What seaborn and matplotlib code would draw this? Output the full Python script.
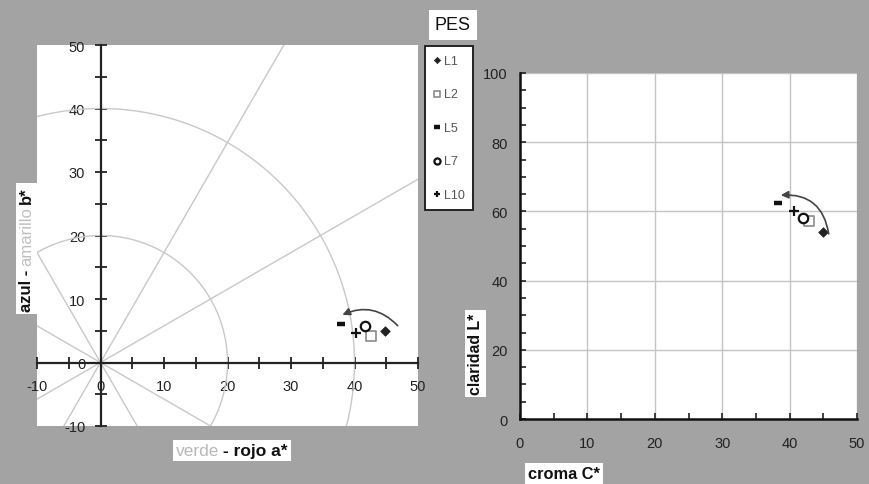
import numpy as np
import pandas as pd
import seaborn as sns
import matplotlib.pyplot as plt
from matplotlib.ticker import MultipleLocator
from matplotlib.patches import Rectangle

sns.set_style('white')
plt.rcParams['font.family'] = ['Liberation Sans', 'DejaVu Sans']
plt.rcParams['axes.unicode_minus'] = False

# valores (PES)
series = ['L1', 'L2', 'L5', 'L7', 'L10']
a_star = [44.8, 42.6, 37.8, 41.7, 40.3]
b_star = [4.9, 4.1, 6.0, 5.7, 4.6]
chroma = [45.0, 42.9, 38.3, 42.0, 40.7]
lightness = [54.0, 57.2, 62.4, 58.1, 60.1]

# guias del plano a*b*
circle_radii = [20, 40]
ray_angles = [30, 60, 120, 150]

df = pd.DataFrame({'serie': series, 'a': a_star, 'b': b_star,
                   'C': chroma, 'L': lightness})

marker_styles = {
    'L1': dict(marker='D', s=24, color='#222222', edgecolor='#222222', linewidth=0.5),
    'L2': dict(marker='s', s=52, color='white', edgecolor='#8a8a8a', linewidth=1.2),
    'L5': dict(marker='_', s=36, color='#111111', linewidth=3.2),
    'L7': dict(marker='o', s=46, color='white', edgecolor='#111111', linewidth=1.6),
    'L10': dict(marker='+', s=48, color='#111111', linewidth=1.6),
}

BG = '#a3a3a3'
W, H = 869, 485
fig = plt.figure(figsize=(W / 100, H / 100), dpi=100, facecolor=BG)
ax1 = fig.add_axes([37 / W, 1 - 427 / H, 381 / W, 381 / H])
ax2 = fig.add_axes([520 / W, 1 - 420 / H, 337 / W, 346 / H])
for ax in (ax1, ax2):
    ax.set_facecolor('white')

# circulos y radios de tono
t = np.linspace(0, 2 * np.pi, 361)
for r in circle_radii:
    ax1.plot(r * np.cos(t), r * np.sin(t), color='#c8c8c8', lw=1, zorder=1)
for ang in ray_angles:
    d = np.radians(ang)
    ax1.plot([-100 * np.cos(d), 100 * np.cos(d)], [-100 * np.sin(d), 100 * np.sin(d)],
             color='#c8c8c8', lw=1, zorder=1)

# puntos
for name in series:
    sub = df[df.serie == name]
    sns.scatterplot(data=sub, x='a', y='b', ax=ax1, label=name, legend=False,
                    zorder=4, **marker_styles[name])
    sns.scatterplot(data=sub, x='C', y='L', ax=ax2, legend=False,
                    zorder=4, **marker_styles[name])


def hue_arrow(ax, start, end, rad):
    ax.annotate('', xy=end, xytext=start, zorder=5,
                arrowprops=dict(arrowstyle='-|>', color='#444444', lw=1.2,
                                connectionstyle=f'arc3,rad={rad}',
                                shrinkA=0, shrinkB=0, mutation_scale=11))


i1, i5 = series.index('L1'), series.index('L5')
hue_arrow(ax1, (a_star[i1] + 2.0, b_star[i1] + 0.9), (a_star[i5] + 0.3, b_star[i5] + 1.5), 0.35)
hue_arrow(ax2, (chroma[i1] + 0.8, lightness[i1] - 0.5), (chroma[i5] + 0.4, lightness[i5] + 2.3), 0.45)

# ejes a*b* cruzando en el origen
ax1.set_xlim(-10, 50)
ax1.set_ylim(-10, 50)
ax1.set_xlabel('')
ax1.set_ylabel('')
for s in ['top', 'right']:
    ax1.spines[s].set_visible(False)
for s in ['left', 'bottom']:
    ax1.spines[s].set_position(('data', 0))
    ax1.spines[s].set_color('#222222')
    ax1.spines[s].set_linewidth(1.6)
    ax1.spines[s].set_zorder(3)
for axis in (ax1.xaxis, ax1.yaxis):
    axis.set_major_locator(MultipleLocator(10))
    axis.set_minor_locator(MultipleLocator(5))
ax1.tick_params(which='both', direction='inout', length=8, width=1.3, color='#222222',
                bottom=True, left=True, labelsize=10.5, labelcolor='#222222')
ax1.tick_params(axis='x', pad=8)
ax1.tick_params(axis='y', pad=7)

# croma - claridad
ax2.set_xlim(0, 50)
ax2.set_ylim(0, 100)
ax2.set_xlabel('')
ax2.set_ylabel('')
ax2.xaxis.set_major_locator(MultipleLocator(10))
ax2.xaxis.set_minor_locator(MultipleLocator(5))
ax2.yaxis.set_major_locator(MultipleLocator(20))
ax2.yaxis.set_minor_locator(MultipleLocator(5))
ax2.grid(True, which='major', color='#c4c4c4', lw=1)
ax2.set_axisbelow(True)
for s in ['top', 'right']:
    ax2.spines[s].set_visible(False)
for s in ['left', 'bottom']:
    ax2.spines[s].set_color('#111111')
    ax2.spines[s].set_linewidth(1.8)
ax2.tick_params(which='both', direction='in', length=4, width=1.2, color='#222222',
                bottom=True, left=True, labelsize=10.5, labelcolor='#222222')
ax2.tick_params(axis='x', pad=12)
ax2.tick_params(axis='y', pad=9)

renderer = fig.canvas.get_renderer()


def multi_label(x_px, y_px, parts, rotation=0, size=10, pad_px=3):
    pos = 0.0
    texts = []
    for txt, col, wt in parts:
        if rotation == 0:
            xy = ((x_px + pos) / W, 1 - y_px / H)
        else:
            xy = (x_px / W, 1 - (y_px - pos) / H)
        tx = fig.text(xy[0], xy[1], txt, color=col, weight=wt, fontsize=size,
                      rotation=rotation, rotation_mode='anchor', ha='left',
                      va='baseline', zorder=7)
        bb = tx.get_window_extent(renderer)
        pos += (bb.width if rotation == 0 else bb.height) + size * 0.3
        texts.append(tx)
    boxes = [tx.get_window_extent(renderer) for tx in texts]
    x0 = min(b.x0 for b in boxes) - pad_px
    x1 = max(b.x1 for b in boxes) + pad_px
    y0 = min(b.y0 for b in boxes) - pad_px
    y1 = max(b.y1 for b in boxes) + pad_px
    fig.add_artist(Rectangle((x0 / W, y0 / H), (x1 - x0) / W, (y1 - y0) / H,
                             transform=fig.transFigure, fc='white', ec='none', zorder=6))


multi_label(31, 312, [('azul -', '#111111', 'bold'), ('amarillo', '#c0c0c0', 'normal'),
                      ('b*', '#111111', 'bold')], rotation=90, size=12)
multi_label(176, 456, [('verde', '#b8b8b8', 'normal'), ('- rojo a*', '#111111', 'bold')],
            size=12.5)
multi_label(480, 395, [('claridad L*', '#111111', 'bold')], rotation=90, size=11.4)
multi_label(528, 479, [('croma C*', '#111111', 'bold')], size=11.8)

fig.text(453 / W, 1 - 26 / H, 'PES', ha='center', va='center', fontsize=13, color='#111111',
         bbox=dict(boxstyle='square,pad=0.35', fc='white', ec='none'), zorder=7)

handles, labels = ax1.get_legend_handles_labels()
leg = fig.legend(handles, labels, loc='upper left', bbox_to_anchor=(425 / W, 1 - 47 / H),
                 bbox_transform=fig.transFigure, fontsize=9, markerscale=0.65,
                 frameon=True, fancybox=False, borderpad=0.7, handlelength=0.5,
                 handletextpad=0.3, labelspacing=1.72, borderaxespad=0, framealpha=1)
leg.get_frame().set_edgecolor('#222222')
leg.get_frame().set_linewidth(1.4)
leg.get_frame().set_facecolor('white')
for tx in leg.get_texts():
    tx.set_color('#555555')

fig.savefig('out.png', dpi=100, facecolor=BG)
